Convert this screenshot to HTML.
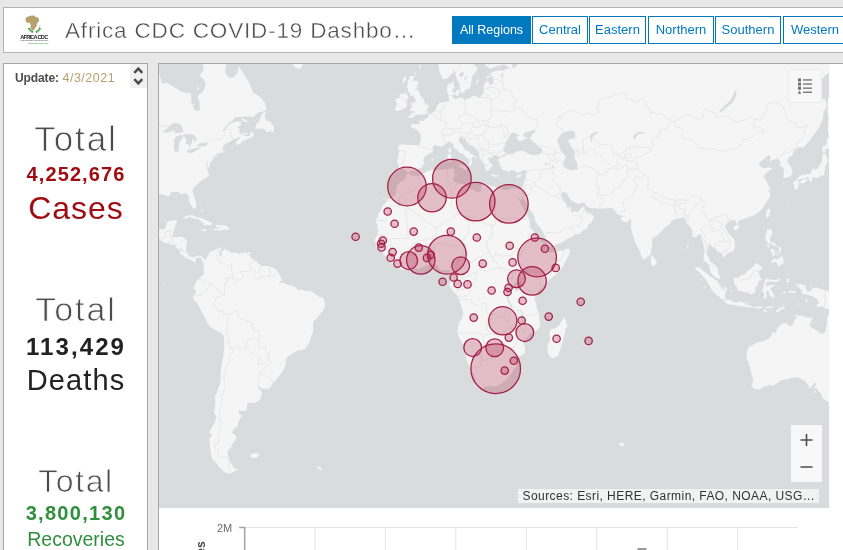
<!DOCTYPE html>
<html><head><meta charset="utf-8"><title>Africa CDC COVID-19 Dashboard</title>
<style>
html,body{margin:0;padding:0;}
body{width:843px;height:550px;overflow:hidden;background:#e8e8e8;font-family:"Liberation Sans",sans-serif;color:#4c4c4c;position:relative;}
.abs{position:absolute;box-sizing:border-box;}
#hdr{left:3px;top:7px;width:846px;height:46px;background:#fff;border:1px solid #b4b4b4;}
#title{left:65px;top:15.5px;font-size:22.5px;line-height:30px;white-space:nowrap;color:#4c4c4c;letter-spacing:0.82px;-webkit-text-stroke:0.4px #fff;}
.tab{top:16px;height:28px;border:1px solid #0079c1;color:#0079c1;background:#fff;font-size:13px;line-height:26px;text-align:center;white-space:nowrap;}
.tab.on{background:#0079c1;color:#fff;}
#left{left:3px;top:63px;width:145px;height:500px;background:#fff;border:1px solid #a6a6a6;}
#right{left:158px;top:63px;width:700px;height:500px;background:#fff;border:1px solid #a6a6a6;}
#map{left:159px;top:64px;width:670px;height:444px;background:#d8dcdd;overflow:hidden;}
.ctr{left:5px;width:142px;text-align:center;white-space:nowrap;}
.lt{-webkit-text-stroke:0.75px #fff;}
</style></head><body>
<div id="hdr" class="abs"></div>
<svg class="abs" style="left:18px;top:14px" width="32" height="32" viewBox="0 0 32 32">
 <path d="M8 3.5 L12 1.8 L16.5 1.6 L17.5 3 L20 3.4 L21.3 6 L20.2 8 L19 9.6 L18.6 12 L17 14.2 L15.8 16.2 L13.8 16.4 L12.6 13.8 L12.8 11 L11.8 8.8 L9 8.8 L7.4 6.6 Z" fill="#b8a16e"/>
 <path d="M21.5 11.5 l0.6 2 l-0.9 1 z" fill="#b8a16e"/>
 <path d="M10.9 14 C11.6 15.8 13 17.2 15.4 18.5 M22 14 C21.4 15.8 20 17.2 17.7 18.5" stroke="#3a9a3c" stroke-width="2" fill="none" stroke-dasharray="1.7 0.45"/>
 <text x="16.2" y="25.2" font-size="5.6" font-weight="bold" text-anchor="middle" fill="#1c1c1c" font-family="Liberation Sans, sans-serif" textLength="28">AFRICA CDC</text>
 <text x="16.2" y="27.3" font-size="1.9" text-anchor="middle" fill="#555" font-family="Liberation Sans, sans-serif" textLength="28">Centres for Disease Control and Prevention</text>
 <text x="20" y="29.6" font-size="1.9" text-anchor="middle" fill="#3a9a3c" font-family="Liberation Sans, sans-serif" textLength="20">Safeguarding Africa's Health</text>
</svg>
<div id="title" class="abs">Africa CDC COVID-19 Dashbo…</div>
<div class="abs tab on" style="left:452px;width:79px;font-size:12.5px;">All Regions</div>
<div class="abs tab" style="left:532px;width:56px;">Central</div>
<div class="abs tab" style="left:589px;width:57px;">Eastern</div>
<div class="abs tab" style="left:648px;width:66px;">Northern</div>
<div class="abs tab" style="left:715px;width:66px;">Southern</div>
<div class="abs tab" style="left:783px;width:64px;">Western</div>

<div id="left" class="abs"></div>
<div class="abs" style="left:130px;top:64px;width:17px;height:24px;background:#f0f0f0;"></div>
<svg class="abs" style="left:130px;top:64px" width="17" height="24" viewBox="0 0 17 24"><path d="M4.3 8.9 L8.3 4.6 L12.3 8.9 M4.3 15.1 L8.3 19.4 L12.3 15.1" fill="none" stroke="#4c4c4c" stroke-width="2.4"/></svg>
<div class="abs" style="left:15px;top:70px;font-size:12.5px;line-height:16px;white-space:nowrap;letter-spacing:0;"><b style="font-size:12px;letter-spacing:-0.1px">Update:</b> <span style="color:#b8a06e;letter-spacing:0.5px">4/3/2021</span></div>

<div class="abs ctr lt" style="top:119px;font-size:35px;line-height:40px;letter-spacing:1.9px;">Total</div>
<div class="abs ctr" style="top:162px;font-size:20px;line-height:24px;font-weight:bold;color:#a00c12;letter-spacing:1.1px;">4,252,676</div>
<div class="abs ctr" style="top:188px;font-size:32px;line-height:40px;color:#a00c12;letter-spacing:1px;">Cases</div>

<div class="abs ctr lt" style="top:289px;font-size:34px;line-height:40px;letter-spacing:1.9px;">Total</div>
<div class="abs ctr" style="top:333px;font-size:24px;line-height:28px;font-weight:bold;color:#222;letter-spacing:2.1px;">113,429</div>
<div class="abs ctr" style="top:362px;font-size:29px;line-height:36px;color:#222;letter-spacing:1.1px;">Deaths</div>

<div class="abs ctr lt" style="top:461px;font-size:32px;line-height:40px;letter-spacing:1.6px;">Total</div>
<div class="abs ctr" style="top:501px;font-size:20px;line-height:24px;font-weight:bold;color:#2f8f3c;letter-spacing:1.3px;">3,800,130</div>
<div class="abs ctr" style="top:527px;font-size:19.5px;line-height:24px;color:#2f8f3c;">Recoveries</div>

<div id="right" class="abs"></div>
<div id="map" class="abs">
<svg width="670" height="444" viewBox="0 0 670 444" style="display:block">
<path d="M-47.9 -64.0L80.1 -64.0L80.1 1.9L82.4 6.4L85.8 11.4L90.6 19.5L92.6 24.6L94.3 28.7L98.3 31.2L101.2 32.7L104.0 36.6L106.0 38.5L106.8 42.7L107.0 46.0L102.9 47.8L98.6 48.7L94.3 52.8L85.8 52.8L76.1 53.2L73.3 57.2L71.0 57.8L66.7 62.3L64.5 65.3L62.5 67.8L65.3 66.6L67.3 63.6L70.2 60.6L73.0 59.1L77.3 57.6L81.5 57.6L82.1 61.1L78.7 62.8L80.7 65.7L80.1 69.0L83.0 70.7L85.8 71.9L90.1 72.3L91.5 69.0L92.9 67.0L94.9 70.3L93.8 72.7L90.9 73.9L84.4 76.8L81.5 79.5L78.1 81.1L76.7 79.9L77.3 77.2L81.5 73.9L80.7 72.7L77.3 74.4L74.4 75.6L70.2 78.0L65.9 80.3L63.9 83.1L63.6 85.0L64.2 87.3L65.9 86.9L65.9 88.1L63.0 88.8L58.8 89.6L55.4 90.7L60.2 90.7L55.9 92.2L54.5 91.9L54.5 93.3L53.9 95.9L52.0 98.5L50.2 96.7L51.4 100.0L50.2 102.5L48.8 104.7L48.3 100.7L48.3 97.1L47.1 97.4L47.4 101.8L47.7 104.7L48.8 106.1L50.2 111.4L47.4 113.4L43.7 115.9L40.3 118.2L37.4 121.0L34.6 123.3L33.5 127.6L35.7 134.2L37.4 139.6L36.9 144.1L34.9 145.0L32.6 142.2L29.8 136.7L29.8 132.5L26.9 129.3L25.2 129.3L22.4 130.3L19.0 128.0L14.7 128.0L11.8 128.6L10.7 131.9L7.6 131.9L4.7 130.6L0.5 130.3L-4.4 131.2L-8.1 134.2L-11.8 137.4L-11.5 142.2L-12.9 148.4L-13.2 153.7L-11.5 158.6L-8.9 162.8L-5.2 164.9L-3.2 166.1L1.9 165.2L4.7 165.2L7.0 162.8L7.9 158.3L9.0 157.4L14.7 156.2L17.5 156.2L18.1 158.3L16.1 161.6L15.5 165.8L14.1 168.2L13.8 171.2L12.4 173.0L14.7 173.6L17.5 173.3L20.4 172.7L23.2 173.0L26.6 174.8L28.3 175.6L27.8 178.6L27.2 183.0L26.9 186.7L28.1 189.3L30.9 192.2L33.2 193.4L36.0 192.8L38.9 191.4L41.7 191.9L44.8 194.2L46.5 196.0L48.8 192.2L50.2 188.8L52.2 187.3L54.5 186.4L58.8 184.7L61.6 183.3L62.2 185.3L60.5 187.3L61.3 187.9L62.2 187.6L65.3 185.9L65.9 184.1L67.0 185.9L70.7 187.3L71.0 188.8L77.3 188.5L80.1 189.9L83.0 188.8L87.2 188.2L88.6 190.2L91.5 191.7L92.1 194.2L94.9 195.4L98.6 198.8L102.3 201.7L107.1 202.0L111.4 202.3L115.7 204.6L118.5 206.6L119.9 210.3L122.2 213.7L122.8 216.5L119.9 218.8L121.4 219.7L124.2 219.4L127.0 219.7L128.5 220.8L132.7 221.6L137.6 223.9L139.0 226.2L141.8 225.6L147.0 227.1L151.2 226.8L155.5 229.3L159.2 232.5L164.0 233.6L165.4 237.3L166.0 240.2L165.4 243.9L162.6 248.3L159.8 251.2L156.9 255.2L154.1 257.6L154.1 262.0L154.1 267.9L152.1 272.4L151.2 276.9L148.4 281.4L146.1 285.1L142.7 286.1L138.4 286.7L134.2 289.2L129.0 292.3L126.8 295.4L126.8 300.2L125.6 304.1L122.8 308.3L119.9 312.6L116.5 316.0L113.1 320.7L111.4 323.5L108.6 324.8L104.3 324.8L100.6 323.5L98.9 321.7L98.9 323.8L102.3 326.9L102.9 329.7L101.4 335.1L98.6 337.6L94.3 339.1L88.6 339.1L87.8 343.1L87.2 346.9L83.0 346.9L80.1 346.1L80.1 350.7L83.8 351.4L81.5 353.8L79.5 358.5L78.4 362.4L74.4 365.7L73.0 368.6L75.8 370.6L77.8 374.0L74.4 378.3L72.1 383.5L68.7 387.1L68.7 391.6L70.4 393.9L70.2 395.8L73.0 401.0L75.8 404.4L79.5 405.4L75.8 407.4L70.2 409.4L65.9 408.4L61.6 404.4L57.4 399.6L53.1 394.9L51.7 388.0L50.8 381.3L50.2 374.8L53.1 370.6L50.2 368.6L53.1 362.4L55.9 358.5L57.4 352.6L55.1 348.8L55.9 343.1L56.5 337.6L55.9 332.9L57.9 328.7L59.6 323.5L61.6 318.3L61.6 311.6L61.9 305.1L63.0 298.6L64.5 292.3L64.8 286.1L65.3 279.9L65.0 273.9L64.8 271.8L61.6 268.8L57.4 266.4L51.7 263.4L48.3 259.0L46.5 254.6L43.7 249.7L40.9 243.9L38.0 238.8L34.6 235.9L34.0 232.5L36.0 229.3L37.4 227.9L36.9 225.9L34.6 225.1L35.2 221.6L36.9 218.8L37.4 216.5L40.3 215.1L41.7 212.5L44.6 210.8L45.1 207.4L44.6 203.1L44.8 199.7L43.4 198.0L42.6 195.4L41.7 193.7L38.9 193.4L36.6 195.1L36.9 197.7L34.6 198.0L32.6 196.0L29.5 195.1L27.5 194.8L24.6 191.7L23.2 191.1L21.2 190.2L20.9 187.3L19.0 185.0L16.1 181.8L16.1 180.6L13.3 180.9L9.0 179.5L4.7 178.6L2.5 176.8L-1.0 173.6L-3.8 172.1L-8.1 173.6L-12.3 173.0L-16.6 170.9L-22.3 168.2L-33.7 160.7L-47.9 154.6ZM107.1 46.9L103.4 49.6L101.4 54.1L100.0 57.6L97.2 60.6L96.3 64.5L100.0 64.5L105.7 64.9L107.1 67.4L110.8 67.8L111.4 64.9L112.5 68.6L114.0 68.6L115.1 64.9L114.2 60.6L112.8 61.5L112.0 57.2L108.6 57.2L106.3 54.5L105.7 51.9ZM81.5 54.5L85.8 55.0L89.5 58.0L87.2 58.0L83.5 56.7ZM82.1 67.8L85.8 69.5L88.6 69.0L87.2 71.1L84.4 70.7ZM128.5 -33.6L132.7 -0.4L136.4 3.6L139.8 5.0L142.1 4.2L143.3 0.7L145.5 -33.6ZM23.5 154.9L26.1 152.5L29.5 151.2L33.2 151.2L36.0 151.9L38.9 153.4L42.3 153.7L45.4 155.5L48.8 157.1L51.7 158.6L53.9 160.1L52.2 161.0L47.4 161.0L44.0 161.2L45.4 159.2L42.6 158.3L41.1 155.9L36.0 154.6L32.3 154.0L31.2 152.8L28.1 154.0L26.1 154.6ZM53.1 165.5L55.1 166.4L58.8 166.1L61.1 167.3L63.0 165.8L65.9 165.5L69.6 166.1L70.7 164.9L68.7 163.1L66.2 161.6L63.0 161.0L61.1 161.3L57.9 161.0L56.2 161.3L57.9 162.8L59.1 164.9L55.9 164.9ZM42.0 165.8L43.7 165.2L46.3 165.5L48.3 166.7L46.3 167.3L43.7 167.0ZM88.9 188.2L91.8 187.9L91.5 189.9L88.9 189.9ZM42.3 145.3L43.7 145.6L44.0 147.8L42.6 147.5ZM40.6 139.9L43.7 139.9L43.4 140.6L40.6 140.6ZM90.9 391.6L94.3 389.3L97.7 389.3L100.6 390.7L98.6 393.0L95.8 393.9L92.1 393.5ZM120.5 219.4L124.8 218.5L127.3 220.2L125.6 223.1L121.9 223.4ZM156.9 402.0L160.3 402.5L163.2 405.4L162.0 406.4L158.6 404.0ZM4.7 220.5L5.9 219.7L6.4 221.4L5.0 221.6ZM277.8 -64.0L278.9 -1.6L279.8 4.2L280.6 8.1L281.2 10.3L283.5 14.7L286.3 15.2L289.2 13.6L292.0 10.3L294.3 8.7L295.2 4.7L296.0 9.2L297.1 12.5L298.8 16.8L300.6 21.0L301.1 24.6L301.7 27.7L302.0 28.7L305.4 28.7L306.0 26.2L307.1 25.2L310.5 24.6L311.6 22.1L312.5 16.8L313.4 12.0L316.2 8.1L317.9 6.4L318.5 3.6L314.8 0.7L313.9 -1.6L313.9 -64.0L327.6 -64.0L326.2 -1.6L325.6 0.7L329.0 3.0L330.4 4.7L336.1 3.0L341.8 1.3L346.1 0.7L350.9 4.7L347.5 4.7L344.6 6.4L339.0 6.4L335.3 7.6L331.8 8.7L331.8 12.0L334.7 13.6L334.1 18.9L333.3 20.5L330.4 20.5L329.3 16.8L326.4 17.9L324.7 21.6L324.7 27.2L323.3 30.7L321.9 32.2L320.5 33.6L318.2 33.6L317.6 31.7L313.4 32.2L310.5 34.1L305.7 36.1L303.4 33.6L300.6 33.6L296.3 35.6L293.4 33.2L293.4 30.7L292.9 28.2L294.3 24.6L296.0 23.1L294.3 20.5L295.2 16.8L292.0 19.5L288.3 20.5L288.0 25.7L288.3 28.2L289.5 30.7L289.7 34.1L290.3 35.6L290.6 36.1L289.2 37.5L287.8 37.5L284.9 38.0L284.3 38.5L280.6 38.9L278.7 40.8L277.2 44.6L275.0 47.8L272.1 49.2L269.6 50.1L269.3 53.2L265.6 55.4L265.0 57.2L261.6 56.7L260.7 55.4L260.4 59.8L257.9 60.2L251.6 60.6L252.2 63.2L257.0 65.3L259.0 66.6L261.6 70.3L261.6 76.8L260.2 81.5L255.0 81.1L248.5 80.7L242.2 80.3L238.8 82.7L240.0 86.5L240.0 90.7L238.3 96.7L238.0 99.2L240.0 100.3L239.7 105.4L244.0 104.7L246.8 106.4L249.1 108.9L252.5 106.4L258.7 106.4L260.2 103.9L263.0 103.2L264.4 100.0L265.6 98.9L264.1 96.3L267.0 91.5L271.3 89.2L274.1 87.3L273.8 85.4L273.5 83.1L276.4 81.1L280.1 81.9L283.5 82.7L286.3 79.9L289.7 77.6L294.0 79.5L294.9 83.5L298.3 86.2L300.6 88.8L304.3 90.0L305.7 91.5L307.7 93.7L309.7 94.8L310.8 98.2L309.7 101.8L311.1 102.1L312.2 100.3L313.6 98.2L312.2 95.6L313.1 93.0L315.9 93.3L317.3 95.2L317.6 93.3L313.4 90.7L310.5 88.8L310.5 87.3L307.7 86.9L304.8 84.2L303.7 81.1L300.8 79.1L300.0 76.0L300.0 73.5L304.0 72.3L303.7 75.2L306.0 73.9L307.7 77.2L310.5 81.1L314.8 83.1L317.6 85.4L320.2 87.7L320.2 92.6L321.9 95.6L324.7 98.9L325.3 100.7L329.0 100.7L330.4 101.8L326.4 101.4L325.6 102.5L326.7 106.1L328.7 107.1L329.9 106.1L331.0 107.1L330.4 103.9L331.8 103.6L333.3 102.9L333.3 101.1L330.4 98.2L330.1 96.7L329.3 94.5L330.4 93.0L331.8 93.7L333.3 93.7L334.4 91.1L339.0 91.5L339.5 93.3L341.2 92.6L344.6 90.7L347.5 90.3L347.5 91.5L343.2 93.0L339.5 94.5L339.5 96.7L341.2 98.9L340.1 100.7L342.4 102.9L342.7 105.4L345.2 106.4L347.8 106.8L349.5 108.6L352.0 106.1L356.0 107.1L358.3 108.9L361.7 107.9L363.7 106.1L366.3 106.8L368.0 106.4L367.1 109.3L366.8 112.4L366.0 116.2L364.6 119.9L363.7 122.6L362.6 125.0L360.3 125.6L356.9 125.0L357.4 129.3L358.9 132.5L360.6 135.1L362.3 136.4L363.1 134.2L364.3 130.9L364.0 134.2L365.1 135.8L368.8 142.2L370.8 145.9L374.5 150.0L375.9 154.6L376.5 157.7L378.8 160.7L381.6 164.3L384.5 169.1L386.7 173.3L387.3 177.1L388.2 180.6L388.7 182.4L393.0 182.1L397.3 180.3L403.0 178.6L407.2 175.6L412.9 172.7L415.8 170.6L420.9 169.7L422.9 167.3L425.7 165.8L428.6 163.7L429.4 160.1L432.0 159.2L435.1 153.1L432.3 149.7L427.7 148.4L425.7 145.9L425.4 141.2L424.3 142.8L421.4 144.7L419.5 147.5L414.3 147.8L411.8 147.5L411.8 145.3L411.5 141.9L409.5 143.7L409.5 145.9L407.8 142.8L407.5 139.9L404.4 137.1L403.0 134.2L401.5 130.9L403.0 129.3L404.4 128.0L407.2 128.6L409.5 132.5L411.5 136.1L414.6 137.7L418.6 139.9L422.9 139.0L425.7 138.7L427.7 142.2L429.4 143.4L432.8 144.1L439.9 144.7L445.6 144.4L451.3 144.1L454.4 144.7L455.6 145.9L457.0 148.8L459.8 150.9L465.0 151.9L461.3 154.0L464.1 157.7L467.0 158.6L469.8 157.1L471.2 154.0L472.1 157.1L472.1 163.7L473.5 169.7L474.9 174.2L476.9 180.0L479.8 185.3L481.7 190.2L483.5 194.0L485.4 195.7L487.4 193.4L489.7 192.2L492.0 189.3L492.0 185.9L493.4 181.2L492.8 175.0L494.8 173.3L499.1 170.9L502.5 167.3L506.8 163.1L511.0 160.1L512.5 156.5L515.3 155.5L518.2 155.2L522.4 153.7L525.3 153.1L526.7 156.8L527.5 159.2L531.0 162.2L533.5 166.7L533.2 172.7L536.1 173.3L540.3 170.3L542.6 171.2L542.9 175.6L544.3 180.0L545.5 184.4L545.2 188.8L544.6 193.1L544.6 196.0L548.0 198.8L550.3 201.7L550.6 204.6L551.7 207.4L553.1 210.5L556.0 212.8L559.4 215.1L561.4 214.8L560.8 211.7L559.1 208.8L559.1 206.0L557.4 202.6L555.7 201.1L553.7 199.1L550.9 198.0L550.0 194.5L548.9 192.2L547.2 188.8L548.9 185.0L549.4 180.6L551.7 180.0L552.3 182.4L555.7 183.8L558.0 187.3L561.7 188.8L563.7 190.2L563.1 194.0L565.1 192.5L568.8 189.3L570.8 188.8L575.0 185.9L576.2 181.5L575.0 175.6L572.2 172.1L569.4 169.1L567.4 165.8L565.7 162.2L568.5 158.6L572.2 156.2L576.5 156.2L577.3 159.2L579.3 159.8L579.3 156.8L583.6 155.2L587.8 154.0L590.1 153.1L595.0 151.5L599.2 148.4L603.5 144.4L605.8 140.6L609.2 135.8L611.5 130.9L610.6 128.3L608.6 127.6L611.7 126.3L610.6 123.3L608.6 119.9L607.2 115.9L604.3 112.4L607.2 108.9L610.6 106.1L613.4 104.7L610.6 103.2L606.3 103.9L603.5 104.3L600.6 101.1L599.8 98.2L603.5 96.3L609.2 91.5L612.0 92.6L610.0 98.2L613.4 95.9L618.6 94.5L620.6 96.3L621.4 100.0L620.0 101.8L623.4 102.9L625.1 105.4L624.5 108.9L624.5 112.4L624.3 114.1L627.7 113.8L631.9 112.1L633.4 108.9L632.8 104.7L630.5 100.7L627.7 96.3L630.5 93.3L633.9 90.7L634.8 86.9L637.1 85.4L640.5 82.7L643.9 83.8L650.4 77.2L656.1 69.0L660.4 62.8L664.1 54.1L664.6 47.3L667.2 43.7L667.5 38.9L666.6 36.6L663.8 34.6L661.8 34.1L657.5 35.6L656.1 33.2L650.4 32.2L654.7 25.7L660.4 17.9L666.1 11.4L671.8 7.6L691.7 7.0L691.7 -64.0ZM358.9 129.3L358.3 125.0L353.2 124.3L350.3 125.0L347.5 126.3L343.2 125.3L337.5 124.0L336.1 123.0L331.8 122.0L327.6 119.9L323.3 121.0L321.9 124.3L321.9 127.6L319.0 128.3L314.8 126.3L309.1 124.3L308.2 121.6L303.4 119.9L299.1 119.3L296.9 118.6L294.0 116.5L293.7 114.8L296.3 111.7L295.2 109.3L294.9 107.1L296.3 105.4L294.0 104.7L290.6 104.7L286.3 105.4L282.1 105.7L276.4 105.7L273.5 106.1L268.7 107.1L265.0 109.3L261.6 111.4L258.7 112.1L256.5 111.4L252.2 111.7L249.9 109.3L248.2 109.6L247.1 113.1L245.7 115.9L243.4 117.2L240.8 118.2L238.5 121.0L237.1 124.3L237.4 127.6L236.0 131.6L233.1 133.2L228.3 136.1L226.6 139.0L223.8 141.5L222.3 145.9L219.5 149.4L218.6 153.1L216.6 156.5L216.5 158.3L218.6 160.7L218.1 163.7L219.5 166.7L218.1 171.2L215.2 176.5L217.2 179.2L217.2 183.0L219.5 185.0L222.3 187.3L223.8 189.6L226.0 191.7L227.5 194.5L229.4 197.4L232.3 199.1L234.3 200.8L238.0 203.4L243.1 206.3L247.9 205.1L253.6 204.0L257.9 204.6L259.3 205.4L264.4 203.1L268.4 201.4L272.1 200.8L274.7 200.6L277.8 201.1L279.8 203.1L280.6 205.1L282.1 206.6L284.9 206.3L288.6 206.0L290.3 206.0L292.0 207.7L292.9 210.3L292.3 213.1L291.7 216.0L291.5 217.9L290.0 220.8L292.0 224.5L294.9 227.9L298.6 232.2L300.0 235.9L302.0 240.2L302.8 243.9L304.3 248.8L303.4 254.1L300.6 257.6L299.1 262.0L298.6 266.4L298.6 268.8L299.7 272.4L302.8 278.4L306.0 284.5L306.2 289.2L307.7 296.4L309.9 301.2L311.9 303.8L313.9 308.3L316.2 314.0L317.1 317.3L316.2 318.3L317.3 321.7L317.6 323.1L319.9 323.8L321.9 324.5L326.2 323.1L330.4 322.1L335.5 322.4L338.1 321.7L341.8 320.0L344.6 318.0L348.1 314.0L351.2 311.0L353.2 308.0L355.5 304.7L357.7 301.8L358.6 298.0L357.7 295.1L358.9 293.2L363.1 291.3L366.0 289.2L366.0 284.5L365.1 281.4L364.0 277.5L364.6 276.0L368.0 273.3L370.8 269.7L374.5 268.2L378.2 265.8L380.5 263.4L381.1 260.5L380.5 256.1L380.2 251.7L379.9 248.8L378.2 245.9L377.4 241.6L376.8 238.2L375.4 235.9L375.9 233.0L377.4 231.0L379.3 226.8L381.6 224.5L383.3 223.4L385.9 220.2L390.2 216.0L393.9 213.1L397.3 210.3L401.5 206.0L404.4 201.7L406.7 196.5L409.5 191.7L410.4 188.8L410.9 185.0L408.6 184.4L404.4 186.4L400.1 186.7L395.8 187.9L391.6 189.1L388.7 187.3L387.9 185.6L388.2 183.0L385.9 180.6L383.0 178.0L380.2 175.6L377.9 174.8L376.5 171.2L374.8 166.7L371.7 164.3L370.8 161.9L370.8 157.7L370.0 154.6L366.5 148.8L364.6 145.3L362.6 141.2L361.1 138.0L359.4 134.8L357.7 130.9ZM248.8 53.6L250.8 54.1L255.0 52.8L256.5 51.0L259.9 51.0L262.2 50.5L265.9 50.5L269.0 48.7L269.0 47.8L266.4 47.3L267.8 46.0L269.8 42.3L268.7 40.8L265.9 40.8L265.9 39.4L265.3 37.5L264.4 35.1L263.3 33.2L261.3 31.7L260.4 28.2L258.7 25.7L255.9 25.7L257.6 24.1L258.7 20.5L259.9 17.9L257.9 16.8L255.0 16.8L253.1 17.9L253.9 15.2L256.2 12.0L250.8 12.0L250.2 15.2L248.5 17.9L248.8 21.6L247.4 22.6L249.1 24.6L248.8 28.7L250.8 27.7L251.3 30.7L250.5 31.7L252.8 31.7L255.0 31.2L255.0 33.6L256.5 35.6L256.5 38.5L252.2 38.9L251.9 41.3L253.3 42.7L251.6 45.0L250.2 46.0L253.1 46.9L255.9 47.8L256.5 48.7L253.1 48.7L251.9 50.5ZM246.8 44.1L243.7 45.0L240.8 46.4L237.1 47.3L235.7 45.0L237.1 42.7L238.0 39.4L236.6 38.0L236.6 34.6L240.8 34.1L240.3 31.7L241.7 29.7L244.2 29.2L247.4 29.7L249.1 32.2L249.4 34.1L247.6 36.1L247.6 38.9L247.9 41.8ZM244.5 13.1L247.4 12.5L246.8 15.2L244.5 19.5L243.7 17.9ZM255.3 9.2L257.6 8.7L257.0 10.9L255.6 10.3ZM260.4 0.7L262.2 0.7L261.9 4.2L260.7 4.7ZM296.9 27.2L299.7 25.2L300.8 27.2L300.0 29.7L299.1 32.2L296.9 31.2L296.0 29.2ZM292.9 28.2L295.4 28.2L295.7 30.2L294.0 30.7L293.2 29.7ZM316.8 19.5L318.5 15.8L319.6 15.8L318.5 18.9L317.1 21.0ZM311.6 24.6L313.6 18.9L313.1 21.6ZM327.3 13.6L329.0 12.0L331.3 12.5L329.9 14.1L328.1 15.2ZM328.1 10.3L330.1 9.5L330.1 10.9ZM300.3 101.8L302.8 101.1L307.7 101.4L309.4 100.7L308.2 104.3L308.0 106.4L305.7 105.7L302.0 103.6L300.6 103.2ZM288.3 91.1L291.2 89.6L292.9 92.6L292.3 97.4L290.6 98.2L288.9 98.2L288.9 94.5ZM289.5 85.4L291.7 83.1L292.0 86.9L291.2 89.2L289.7 88.1ZM331.8 111.4L332.4 110.3L336.1 111.0L339.8 111.4L339.5 112.4L335.5 112.8L332.1 111.7ZM356.9 112.4L358.6 111.0L360.9 111.0L363.4 110.0L361.7 112.4L358.9 113.8ZM344.1 108.2L345.2 107.5L344.9 108.9ZM331.0 98.2L335.0 101.4L333.8 100.0L331.8 99.2ZM338.7 97.4L340.7 97.1L340.4 98.2L338.7 97.8ZM271.8 95.9L273.8 94.7L274.7 95.9L273.5 97.1ZM275.8 94.5L277.2 94.8L276.7 95.0ZM268.4 98.2L269.6 97.8L269.3 98.7ZM491.7 195.4L492.8 190.8L495.1 193.4L497.7 197.4L497.4 200.3L494.3 202.0L492.6 201.1L492.0 198.8ZM405.2 253.2L406.9 256.7L408.1 262.0L408.6 263.1L406.7 263.7L406.1 267.6L405.5 270.3L403.8 276.9L402.4 281.4L400.7 287.0L399.0 292.0L394.7 293.9L393.4 294.2L390.7 292.3L389.3 289.8L388.2 284.5L388.7 280.8L391.0 276.9L391.0 273.3L390.2 269.4L391.6 265.5L393.9 264.9L396.7 264.0L399.3 262.0L401.2 260.5L401.5 257.9L403.8 256.7L404.1 254.3ZM387.9 251.4L388.7 252.0L388.4 252.9ZM393.1 255.2L393.9 255.5L393.4 256.1ZM428.1 277.2L429.3 277.0L429.3 278.2L428.3 278.4ZM422.2 279.8L423.4 279.6L423.7 280.8L422.4 281.0ZM460.4 379.1L463.0 378.3L465.5 380.0L464.7 382.2L461.8 382.0L460.7 380.9ZM376.5 235.3L377.4 235.9L377.4 237.0L376.8 236.8ZM216.9 134.5L218.9 134.0L218.1 135.8ZM220.1 135.5L221.2 135.5L220.9 136.6ZM224.0 135.5L225.6 133.5L225.7 135.1ZM225.7 132.5L226.7 131.9L226.6 132.9ZM197.4 174.8L198.3 175.0L198.0 175.9ZM193.0 169.3L193.9 169.3L193.6 169.9ZM199.7 172.1L200.4 172.2L200.1 172.8ZM289.2 208.3L290.3 208.6L289.7 209.6ZM283.5 217.8L284.2 217.9L283.8 218.7ZM609.2 145.0L611.7 145.3L610.6 150.0L608.9 154.6L606.6 151.5L607.2 148.4ZM574.2 162.8L577.9 160.4L580.7 161.6L579.0 165.2L576.5 166.1L574.2 164.9ZM634.2 118.2L637.3 116.2L639.6 117.2L640.2 119.9L638.8 124.3L636.8 126.0L635.3 125.0L635.6 121.0L633.9 119.9ZM641.0 117.9L643.3 115.9L647.6 114.8L648.1 116.5L646.7 118.2L643.9 119.3L642.7 119.9ZM637.3 115.9L639.0 113.8L642.5 111.0L647.0 110.3L651.3 110.3L652.4 107.9L654.1 104.3L655.5 103.6L654.7 106.1L658.4 104.7L661.2 101.1L663.2 95.9L663.2 92.2L664.1 90.0L666.9 89.2L667.5 92.6L668.9 95.9L667.5 100.7L666.1 101.8L666.1 105.4L664.9 108.2L665.8 110.0L664.1 112.1L662.7 112.4L662.7 110.3L661.2 111.4L659.8 113.4L658.1 113.8L655.3 113.8L654.4 112.4L653.6 113.8L652.7 117.6L651.0 117.6L649.3 114.8L650.1 113.4L647.6 113.4L644.7 114.5L641.3 115.2L638.2 116.2ZM663.2 88.8L664.1 85.8L662.7 84.6L664.4 81.9L666.9 81.9L668.1 75.2L668.9 73.1L671.8 77.2L675.7 79.5L678.3 78.0L678.9 81.9L675.2 83.5L672.6 86.9L668.9 84.6L666.1 85.4L666.6 87.7L664.6 88.5ZM668.9 34.1L671.8 34.1L672.6 42.7L672.3 49.6L674.6 56.3L671.8 58.5L671.2 64.9L673.2 69.9L670.3 68.2L668.9 71.1L668.9 62.8L669.5 54.1L668.3 47.3L668.6 40.4ZM624.0 118.2L626.0 117.4L626.0 118.2L624.3 118.6ZM608.0 165.2L612.6 165.2L613.2 168.8L612.6 172.1L610.9 173.3L611.2 177.7L613.4 178.6L615.7 179.2L618.0 181.5L617.7 182.7L615.7 181.5L613.7 180.9L611.5 179.5L608.9 179.2L608.0 177.4L606.9 176.2L606.0 172.1L607.5 170.9L607.5 168.2ZM607.5 180.0L609.7 180.3L610.6 182.4L609.7 183.8L608.6 182.4ZM598.4 194.8L602.1 191.7L604.9 187.9L605.5 186.2L604.1 189.1L601.5 192.5L598.7 195.4ZM612.0 184.7L615.2 185.6L614.6 187.6L612.0 188.8L611.7 186.4ZM614.6 187.6L616.3 187.6L615.4 191.7L614.9 192.8L613.4 191.4L613.7 189.1ZM616.0 190.2L617.7 186.7L617.9 188.5L616.6 190.5ZM618.6 183.0L621.4 183.0L622.5 186.7L620.6 187.3L620.3 185.0ZM618.8 186.2L620.6 186.4L621.1 189.6L620.0 189.9ZM617.1 190.2L619.1 189.9L619.1 191.4L617.7 191.4ZM612.0 197.4L612.6 199.1L615.7 197.7L617.7 198.8L618.3 201.1L621.4 202.3L622.3 199.4L624.0 200.8L624.8 198.0L624.3 194.5L622.0 191.1L621.7 193.1L620.0 194.2L617.1 195.7L616.0 194.2L614.0 195.4L612.6 196.3ZM575.3 214.2L577.0 213.1L579.3 214.0L581.6 211.7L586.1 210.0L589.0 206.0L592.1 204.6L593.8 202.8L596.9 199.1L599.5 200.3L601.5 202.3L604.1 204.0L601.2 206.3L599.5 207.1L600.1 209.7L600.6 212.5L603.2 216.0L600.1 216.5L599.2 218.8L599.2 221.1L596.4 223.6L596.4 226.8L595.5 229.3L594.4 229.0L591.3 230.5L588.7 228.5L585.9 228.2L582.7 227.3L578.7 226.8L577.9 223.1L575.9 220.5L575.0 217.9L574.8 215.4ZM536.1 202.8L540.9 204.0L543.8 206.6L545.7 208.3L548.9 210.3L550.9 212.5L553.7 213.4L556.6 216.0L559.1 217.4L560.3 220.2L562.2 222.2L562.5 224.5L565.9 226.5L566.5 228.2L565.9 231.6L566.2 235.3L564.2 235.3L562.2 235.0L560.8 233.0L557.4 231.0L555.1 228.5L552.3 225.3L550.6 221.6L548.6 218.8L546.6 215.4L545.2 213.1L542.9 211.4L540.9 208.8L538.1 206.6L536.4 204.6ZM564.2 237.9L566.5 235.6L569.4 235.8L573.1 236.8L575.0 238.2L579.0 238.5L580.4 237.0L582.2 237.9L585.3 238.5L586.4 240.5L590.7 240.8L591.0 243.6L587.3 242.8L583.6 242.5L579.3 241.9L575.0 240.8L572.2 240.8L567.9 239.9L567.4 238.6ZM585.6 238.8L589.3 238.5L589.3 239.3L585.9 239.3ZM590.7 242.2L592.7 241.9L594.1 242.8L592.7 243.9ZM594.7 242.8L596.7 242.5L596.4 244.2L595.0 244.1ZM597.2 243.1L599.8 242.2L601.5 242.8L603.5 242.5L603.5 243.9L600.1 244.5L597.2 244.5ZM606.0 243.1L609.2 242.8L613.4 242.2L614.9 242.5L614.3 243.6L610.6 244.2L606.3 243.9ZM603.5 245.9L606.3 245.5L608.6 247.4L606.9 248.1L604.1 247.0ZM616.3 248.3L618.3 245.7L621.1 243.6L624.8 242.8L627.1 242.8L624.8 244.5L621.4 246.2L619.1 247.8ZM564.2 223.6L566.8 223.1L568.5 226.2L567.1 227.3L565.4 225.3ZM571.1 226.2L572.8 226.5L572.5 227.9L571.1 227.6ZM541.2 214.8L542.3 214.8L543.5 217.1L542.6 217.2ZM545.5 221.6L546.6 221.9L547.5 223.6L546.6 223.9ZM537.2 210.8L538.1 210.8L539.5 212.0L538.6 212.1ZM605.8 216.2L607.2 215.1L609.2 215.1L612.6 216.0L615.4 216.1L618.6 215.4L621.1 214.0L620.6 216.0L618.6 217.7L615.7 217.9L612.0 217.5L609.2 217.5L607.2 218.5L606.6 220.8L608.3 222.8L610.6 221.2L613.7 221.1L616.0 220.9L615.7 221.8L612.6 223.4L611.2 224.2L613.2 227.9L614.6 230.5L615.2 232.5L614.0 232.2L612.6 232.8L610.9 232.5L610.6 230.5L609.2 226.5L607.2 227.1L607.5 229.3L607.5 234.5L605.5 234.8L604.6 234.2L605.2 231.0L604.9 228.8L602.9 226.8L604.1 224.5L604.6 221.6L605.8 218.8ZM614.0 231.9L615.2 231.3L615.4 233.6L614.3 234.8L613.7 233.9ZM627.7 216.0L629.1 212.8L628.8 215.7L631.1 214.5L629.7 216.5L631.4 217.9L629.1 217.7L628.8 219.7L630.2 221.1L628.2 219.7L628.0 217.7ZM629.1 227.3L631.9 226.8L636.2 227.3L637.1 229.6L633.4 228.5L630.5 228.5L629.1 228.5ZM623.4 227.9L625.7 227.5L626.8 228.5L625.7 229.8L623.7 229.0ZM618.8 223.6L621.4 223.9L623.4 224.1L621.4 224.3L618.8 224.3ZM627.4 223.1L629.4 223.1L628.8 223.8ZM646.7 235.3L648.4 234.8L648.1 238.2L646.7 238.5ZM638.2 239.9L639.6 239.3L639.3 241.6L637.9 241.6ZM643.0 233.9L643.9 234.0L643.3 235.6ZM622.8 240.8L625.7 240.5L625.4 241.5L623.1 241.5ZM618.6 242.2L620.8 242.1L620.8 242.8L618.8 242.9ZM637.3 221.4L640.5 219.9L643.9 220.8L646.4 221.1L646.7 224.5L647.9 226.8L649.0 228.2L651.6 227.1L653.0 225.1L655.3 223.9L657.5 223.4L660.4 224.5L664.1 225.6L666.6 226.2L671.8 228.5L680.3 233.0L680.3 244.5L672.6 243.4L670.3 245.1L666.4 245.1L663.8 242.5L660.1 242.8L657.0 242.8L658.7 239.9L659.8 238.8L659.2 236.5L657.5 234.5L653.3 232.2L649.6 231.3L646.4 229.9L643.9 230.2L642.7 228.5L643.0 225.9L645.6 225.1L644.2 225.6L641.3 225.3L640.2 223.4L638.2 222.8ZM650.4 220.8L652.1 221.4L653.0 222.2L651.3 221.9ZM650.7 223.5L654.1 223.8L652.7 224.2ZM635.6 219.1L638.2 219.1L638.2 219.9L635.9 219.8ZM633.9 223.9L635.9 223.9L635.6 224.6L634.2 224.5ZM670.3 249.4L667.8 254.6L668.1 259.0L667.2 263.4L666.1 267.9L663.2 270.0L660.9 268.8L657.5 266.4L654.1 264.3L650.4 261.7L651.8 258.1L654.1 254.1L651.8 253.8L649.0 253.8L644.7 252.6L642.2 251.4L639.9 251.2L637.6 253.8L635.3 255.8L633.9 259.9L633.4 261.7L629.9 261.7L627.7 259.6L624.8 259.0L622.0 260.5L619.1 263.4L617.7 266.1L616.3 268.8L612.9 268.5L612.6 271.5L610.0 274.5L604.9 276.9L600.6 278.1L597.2 278.7L593.5 281.4L589.8 282.7L588.4 286.1L587.8 290.7L587.3 294.5L589.6 298.6L591.0 304.1L592.1 308.3L593.5 313.3L594.1 317.0L593.0 320.4L592.4 322.8L596.4 325.2L600.6 325.5L604.9 323.1L609.2 321.2L614.9 321.4L617.7 319.4L623.4 316.0L629.1 315.0L633.4 313.6L638.2 313.3L641.9 315.0L646.2 317.3L649.0 321.1L650.7 324.8L653.3 321.7L656.1 318.3L657.0 320.0L654.7 325.2L657.5 323.5L659.0 326.9L661.8 328.7L663.2 334.0L667.5 336.9L671.8 338.4L691.7 335.8L691.7 249.4ZM635.3 251.4L638.5 250.9L639.0 252.0L636.5 252.6ZM653.0 258.4L654.4 258.4L654.1 259.9L653.0 259.6ZM653.6 327.6L656.4 327.3L657.5 328.3L654.1 328.7ZM528.7 180.0L529.5 180.3L529.2 184.4L528.4 185.6L528.1 183.0ZM531.5 198.3L532.2 198.8L531.8 199.4ZM560.5 189.1L561.1 189.3L560.8 190.2ZM628.2 141.5L629.9 139.6L629.1 141.2ZM632.5 115.2L633.4 113.4L632.9 115.2ZM658.1 101.8L659.1 100.7L659.0 102.3Z" fill="#f5f5f5" fill-rule="nonzero"/>
<path d="M-5.8 58.5L-5.8 56.7L-4.1 59.8L0.5 60.2L4.7 62.3L9.0 62.3L10.7 62.8M47.7 78.8L51.7 75.2L61.6 75.2L61.9 74.4L63.6 73.5L65.0 71.5L65.9 68.2L68.2 65.1L70.7 65.5L72.1 66.6L72.1 72.3L73.3 73.9L74.4 75.6M24.6 69.0L27.5 70.7L30.3 73.9L30.6 83.1L30.3 84.6L28.6 86.2L28.9 87.3M40.3 83.7L40.1 82.1M2.7 177.1L2.7 174.8L4.2 172.4L7.9 172.4L7.9 171.5L5.0 169.1L6.2 169.0L6.2 167.3L11.3 167.3L11.3 173.0L12.1 173.0M11.3 167.3L11.6 166.7L13.8 165.2M14.1 173.6L11.3 175.9L10.7 177.4L8.7 179.3M10.8 177.4L13.3 178.7L15.3 180.3M16.7 181.5L18.4 179.2L20.9 178.6L23.5 176.2L28.3 175.6M21.2 187.0L24.1 187.2L26.9 187.6M29.2 191.7L29.2 195.7M44.8 194.2L45.4 196.3L43.4 198.3M60.8 161.6L61.1 164.3L60.8 166.7M62.2 185.0L59.6 187.0L57.4 190.8L58.8 194.8L60.2 198.6L65.6 198.8L67.6 201.4L73.0 201.1L72.1 206.0L73.6 209.1L73.9 212.3L74.7 215.4M74.7 215.4L74.1 214.0L66.5 214.0L66.5 215.7L68.2 216.0L67.3 220.2L65.9 219.4L65.7 230.8M65.7 230.8L63.9 229.6L57.6 225.6L55.4 222.5L50.8 219.1M50.8 219.1L48.0 217.7L44.6 216.8L40.9 214.8M50.8 219.1L50.0 223.1L47.1 226.2L42.6 228.5L41.1 231.9L38.6 231.6L36.3 231.3L36.6 228.5M65.7 230.8L57.6 233.3L54.8 239.6L57.4 244.5L59.6 247.4L64.2 245.9L64.2 250.3L67.0 250.1M67.0 250.1L69.6 254.6L68.7 258.1L67.6 261.4L68.2 262.8L67.0 268.8L67.3 269.4L64.8 271.9M67.0 250.1L70.7 250.3L75.6 247.1L79.0 246.5L79.3 251.7L81.8 254.6L86.4 256.1L89.2 257.6L92.9 258.4L93.8 265.8L99.2 265.8L98.9 268.5L101.4 271.5L100.6 273.9L99.6 277.2M67.3 269.4L69.3 273.9L70.2 279.6L71.0 281.4L71.9 285.4L73.9 285.4M73.9 285.4L76.7 282.4L82.1 285.4L86.4 283.0L86.8 283.7M86.8 283.7L87.8 278.4L89.2 275.7L96.9 274.8L99.6 277.2M99.6 277.2L100.3 283.3L106.3 283.9L107.4 289.2L110.5 289.5L109.7 294.2M86.8 283.7L91.5 288.5L97.7 291.7L101.2 294.2L98.3 299.3L104.3 300.2L106.0 299.6L109.7 294.2M109.7 294.2L112.0 297.7L112.0 299.3L106.3 303.1L101.2 309.0M101.2 309.0L105.7 311.3L109.7 313.3L112.0 315.0L113.7 317.3L113.1 320.9M101.2 309.0L99.5 315.0L98.9 321.4M73.9 285.4L73.6 289.2L70.4 290.7L70.7 298.3L67.0 303.4L65.9 309.6L64.5 313.3L65.6 318.7L66.5 322.4L64.5 326.2L64.8 329.0L62.8 330.8L62.5 339.1L61.1 341.7L60.8 350.7L59.9 351.8L61.1 356.9L62.5 361.6L61.3 364.5L60.5 370.2L59.1 373.6L59.3 378.7L56.2 380.4L56.5 385.3L59.3 386.6L59.3 389.8L60.5 392.6L67.3 393.3L70.4 393.9M69.9 395.3L69.9 406.4M74.7 215.4L78.7 216.5L82.4 214.5L83.0 213.1L84.7 212.0L82.1 209.1L81.2 207.1L86.4 207.4L88.4 206.8L91.5 206.0L92.3 204.0M92.3 204.0L90.4 202.0L91.2 199.7L93.5 198.8L94.9 195.1M92.3 204.0L94.0 204.6L94.9 206.3L95.8 207.7L94.6 211.1L95.5 213.7L98.6 215.1L102.0 213.3L104.3 213.4M102.4 201.7L102.0 204.3L100.0 207.4L101.2 209.4L104.3 213.4M104.3 213.4L106.0 213.1L108.3 211.7L110.0 212.3M111.4 202.3L110.3 204.6L111.4 208.6L110.0 212.3M110.0 212.3L112.0 212.0L114.5 212.8L115.4 211.7L117.9 207.1M239.7 87.3L241.7 86.5L246.2 87.3L247.4 88.5L245.4 90.7L245.4 93.3L245.1 95.6L243.7 95.9L244.8 98.2L244.0 100.3L245.1 101.1L243.7 103.6L244.0 104.7M259.9 81.5L261.0 83.1L263.0 83.5L267.0 83.8L269.0 84.6L270.1 85.4L274.1 85.4M272.3 49.2L273.2 51.0L275.2 51.9L276.9 52.8L276.9 54.3L278.7 53.4L278.8 55.0L280.6 56.3L282.6 56.3L283.8 57.6L286.0 57.6L288.3 58.5L286.6 62.3L286.6 64.5M274.7 47.8L276.9 47.8L279.2 47.3L281.5 48.7L281.2 50.5L282.1 50.5M282.1 50.5L282.9 51.9L282.4 53.6L281.5 56.3M282.1 50.5L282.4 47.3L282.1 46.0L284.3 45.5L284.9 43.7L285.1 42.3L285.5 39.4M286.6 64.5L284.9 65.3L282.4 68.6L282.4 70.3L284.3 69.5L284.9 71.5M284.9 71.5L284.3 74.4L284.9 78.0L286.9 78.8L286.3 79.9M284.9 71.5L287.5 71.5L288.9 69.5L290.6 71.9L291.5 69.5L293.7 69.9L294.6 68.6M286.6 64.5L289.5 64.0L292.3 64.9L292.0 66.6L294.6 68.6M294.6 68.6L296.9 67.4L299.7 67.0L300.3 68.2L304.0 69.0M292.3 64.9L294.9 64.9L296.3 65.3L299.7 64.5L302.0 64.9L301.4 62.3L303.1 61.1L304.3 59.3M304.3 59.3L300.6 55.4L299.4 52.8L302.0 51.9L305.7 49.6L307.1 50.1M307.1 50.1L306.5 45.0L306.5 42.3L305.1 40.8L305.7 36.1M289.7 31.2L293.2 31.7M307.1 50.1L310.5 51.4L313.1 52.3L315.3 52.8L317.9 54.5L318.5 56.3L321.3 57.6L323.0 56.7L326.4 56.7L329.3 58.0M304.3 59.3L307.1 59.3L307.7 58.5L310.8 59.5L313.1 60.2M313.1 60.2L315.9 58.9L318.5 56.3M313.1 60.2L313.6 62.8L311.9 65.3L310.8 67.4M304.0 69.0L306.2 69.5L309.4 68.2L310.8 67.4M313.6 62.8L318.5 63.6L321.6 61.9L324.2 60.2L327.9 61.1M327.9 61.1L330.1 63.0L326.4 67.4L325.0 70.3L322.7 70.5M322.7 70.5L319.0 71.5L318.5 71.5L315.1 71.3L312.2 69.0L310.8 67.4M312.2 69.0L309.4 70.3L308.5 73.1L303.7 73.1M309.9 74.4L313.1 74.2L319.0 74.8L320.2 75.6L319.3 77.6L320.8 81.1L317.6 85.0M309.9 74.4L310.5 78.4L315.1 82.9L317.6 85.0M318.5 71.5L320.2 75.6M322.7 70.5L325.9 74.4L326.2 76.0L329.0 76.4L329.6 78.4L328.7 79.9L330.4 82.3L328.7 85.8M329.6 78.4L330.4 79.9L337.2 80.5L341.8 78.8L346.4 80.1M330.1 63.0L335.8 64.0L340.7 61.7L341.8 62.3L344.9 67.8L345.2 73.1L349.5 74.4M340.7 61.7L343.5 60.8L347.8 63.2L350.3 69.5L347.2 71.1L345.2 73.1M328.7 85.8L330.1 89.4L334.7 88.8L339.2 89.4L340.1 88.1L340.7 86.9L344.6 86.9M340.1 88.1L340.7 89.6L339.0 91.7M321.9 95.6L323.9 92.2L324.7 91.1L330.1 89.4M320.2 87.3L322.2 84.6L323.6 87.3L323.9 91.1M322.2 84.6L323.0 83.7L326.2 85.8L328.7 85.8M323.6 87.3L326.2 85.8M320.8 81.1L323.0 83.7M320.8 33.4L329.9 33.9L331.8 35.6L331.8 36.1M329.9 33.9L329.3 30.7L325.6 29.4M331.8 36.1L333.0 41.8L331.0 43.7L332.1 47.3M332.1 47.3L333.6 50.5L329.3 56.3L329.3 58.0L327.9 61.1M324.9 25.2L330.1 23.6L335.8 23.6L340.7 27.2M340.7 27.2L340.7 30.2L337.5 34.1L331.8 36.1M334.1 15.8L337.5 15.2L342.9 17.6M342.9 17.6L344.4 21.6L345.2 25.2L340.7 27.2M344.9 7.3L342.9 10.9L342.9 17.6M345.2 25.2L352.6 27.7L353.2 32.2L358.0 38.5L354.6 39.4L355.5 44.6M332.1 47.3L336.1 45.5L343.2 47.3L347.5 46.9L352.0 48.3L355.5 44.6M355.5 44.6L361.7 44.1L365.7 49.6L369.1 52.8L373.1 54.5L379.1 55.8L378.2 59.3L377.9 63.6L373.7 66.6M296.6 9.8L298.6 5.3L300.6 3.0L300.0 -1.6M344.1 1.0L347.5 -2.8M244.2 30.4L242.0 33.2L244.2 34.9L247.1 35.3M367.7 108.9L369.1 108.0L370.2 106.4L374.5 105.7L378.8 105.9L385.5 105.0L392.4 104.7M392.4 104.7L391.0 100.3L391.3 96.7L392.4 95.6M392.4 95.6L389.3 94.1L388.7 90.3L385.9 89.0L383.2 88.8M378.8 81.5L385.9 82.3L391.6 84.2L397.0 87.3L399.5 89.2L403.2 87.5M397.0 87.3L397.3 90.3L393.0 89.6L388.7 90.3M393.0 89.6L395.6 93.7L397.3 96.3L397.3 98.5M392.4 95.6L397.3 98.5L401.5 95.6L404.1 100.3M385.5 105.0L382.2 108.2L381.6 114.5L375.4 117.9M375.4 117.9L369.7 121.6L366.5 120.3M367.3 113.6L369.1 115.2L366.8 118.2M366.4 120.3L366.1 124.3L364.6 130.8M362.4 125.3L364.3 130.9M364.6 131.2L367.7 131.9L371.7 129.3L373.1 127.6L370.2 124.3L375.9 122.3L376.5 122.1M375.4 117.9L376.5 122.1M376.5 122.1L379.9 123.0L384.5 125.6L392.1 131.9L397.3 132.2M397.3 132.2L400.1 129.3L401.5 129.3M397.3 132.2L400.7 134.2L402.7 134.0M392.4 104.7L394.1 108.9L395.8 110.0L394.1 115.9L396.1 119.3L400.7 122.6L401.0 126.0L403.2 129.6M386.7 171.5L387.9 168.5L391.3 168.5L397.0 169.1L400.1 169.4L404.7 164.9L412.9 163.7M412.9 163.7L416.0 170.8M412.9 163.7L421.4 160.7L423.4 154.6L422.0 152.5M422.0 152.5L414.6 151.7L411.8 148.1M422.0 152.5L423.7 148.4L424.6 146.3L425.4 145.5M409.5 146.1L410.6 146.6M418.3 104.3L420.9 103.9L424.9 101.4L428.0 101.8L431.1 103.6L433.4 103.9L437.1 106.8L438.9 106.8L439.1 110.1M439.1 110.1L437.1 115.5L438.2 124.3L440.5 124.6L438.2 129.8M438.2 129.8L440.8 133.5L443.6 134.8L443.6 137.7L445.1 139.6L441.1 141.5L439.9 145.0M438.2 129.8L442.8 131.6L447.3 131.2L453.6 129.6L453.9 126.3L458.4 124.0L462.1 123.0L462.1 119.3L465.0 117.9L464.1 115.9L467.2 114.5L468.7 111.7L467.8 108.9L471.2 106.1L476.9 105.4M439.1 110.1L441.9 111.4L444.8 109.4L448.5 107.9L449.3 105.0L454.2 104.1L457.9 104.8L458.7 105.4L462.7 103.2L464.4 103.2L465.2 101.4L468.1 102.1L468.4 106.1L473.5 103.8L478.0 104.5M459.0 149.4L460.7 147.5L467.0 147.2L464.7 143.1L465.0 139.0L462.7 139.0L465.8 135.8L472.1 132.7L474.1 129.3L476.6 126.0L476.6 123.6L479.2 121.6L476.6 119.9L475.8 118.6L474.9 114.8L476.1 113.3L480.5 114.1L484.2 112.1L486.3 110.7M486.3 110.7L489.4 114.8L489.1 117.6L490.3 121.0L488.3 120.6L488.9 124.3L495.7 128.6M495.7 128.6L499.1 128.9L501.9 130.9L504.5 133.2L506.8 133.8L509.1 135.1L515.3 136.1L515.6 136.1M495.7 128.6L492.8 133.2L495.7 134.5L501.9 137.9L505.9 138.3L507.6 139.9L513.0 140.9L515.6 140.9L515.6 136.1M515.6 136.1L517.6 138.0L519.6 135.6L523.0 135.6L525.8 136.4L527.0 137.4L526.7 139.5L522.1 139.3L520.1 139.9L517.6 138.7L517.6 138.0M527.0 137.4L530.7 133.8L534.1 131.6L536.4 132.5L538.4 131.1L541.8 134.8M515.6 140.9L517.9 141.2L520.4 142.2L520.7 144.4L527.8 145.2L524.4 148.4L524.4 150.0L525.8 151.5L527.3 149.7L528.4 156.8L527.5 158.6M515.6 140.9L515.6 146.9L517.3 147.8L517.9 151.9L518.3 154.5M528.4 156.8L529.8 152.5L530.4 148.4L534.4 144.7L535.8 142.2L541.2 138.7L541.8 134.8M541.8 134.8L544.3 136.7L545.7 139.9L542.9 145.0L542.6 148.8L545.7 148.4L546.9 154.0L549.7 156.2L552.7 155.1M552.7 155.1L549.7 159.5M549.7 159.5L546.3 161.5L543.2 164.9L542.0 165.4L546.3 172.1L544.3 175.3L546.9 179.2L548.0 184.7L545.7 189.6M549.7 159.5L551.2 162.2L553.1 162.2L552.6 168.2L555.4 166.4L558.5 165.8L562.8 168.5L563.1 171.5L565.4 173.9L565.1 177.4M565.1 177.4L561.7 177.4L558.0 178.0L556.0 180.3L557.7 185.3M565.1 177.4L566.5 178.6L570.8 176.7M570.8 176.7L571.1 183.5L567.6 185.9L565.9 185.6L567.1 187.9L564.2 187.6L562.0 189.1M570.8 176.7L570.5 175.0L570.2 173.0L567.9 170.9L564.0 164.6L560.5 162.8L563.1 161.0L562.0 158.3L558.5 158.3L555.6 153.2M552.7 155.1L554.3 157.1L555.6 153.2M555.6 153.2L559.4 152.5L564.5 150.5L568.5 152.2L568.2 154.6L572.2 156.0M549.7 200.4L552.6 202.6L555.4 201.1M576.9 213.1L579.0 216.2L583.0 216.0L586.0 214.5L588.7 215.4L591.0 214.8L592.4 210.8L593.5 209.7L594.7 206.6L600.4 207.0M666.1 226.2L666.1 244.8M620.4 244.2L620.8 245.7M623.7 102.7L626.2 100.7L630.1 99.6M618.6 94.7L623.4 90.7L626.0 87.7L629.7 89.0L633.9 85.2L636.5 85.2M636.5 85.2L638.5 78.8L643.6 74.8L646.4 66.1L648.4 61.3L641.9 63.6L637.3 63.6L636.5 59.8L627.7 55.0L626.0 48.0L623.1 41.3L616.6 38.0L609.2 39.2L606.9 42.3L608.3 45.0L604.3 51.4L604.3 53.6L600.4 56.3L596.9 54.7M596.9 54.7L593.5 54.1L590.4 53.0L586.1 56.1L582.4 56.7L579.9 58.0L573.6 57.2L571.9 55.0L569.1 52.8L566.2 52.3L562.5 52.8L560.0 53.6L556.0 51.9L555.4 48.3L549.4 46.9L546.3 45.0L544.3 47.3L543.2 49.6L544.3 52.3L541.8 55.4L537.5 54.1L534.7 54.1L532.7 51.9L527.3 50.5L523.0 52.8L517.6 56.3L514.6 57.2M596.9 54.7L593.5 62.3L598.7 64.0L600.9 62.3L605.8 66.8L605.5 68.2L598.9 68.2L596.9 69.5L594.1 72.3L590.7 73.9L587.8 76.0L583.6 75.0L583.3 80.3L581.0 81.5L577.9 84.6L571.3 85.0L563.7 88.5L562.2 87.3L554.6 85.0L548.0 85.0L542.3 84.0L539.1 84.2L537.5 81.9L536.1 78.4L531.0 75.4L523.7 73.9L522.7 72.3L523.8 67.4L521.9 64.0L517.7 62.5L514.6 57.2M514.6 57.2L513.3 57.6L511.9 55.0L508.2 55.4L507.1 53.6L502.2 49.4L498.0 50.5L494.3 47.8L492.6 50.3L486.3 38.5L482.6 34.6L476.6 37.8L473.8 38.0L474.1 35.3L467.5 35.1L466.7 30.2L461.6 28.7L451.9 32.7L441.4 35.6L438.5 37.3L440.5 40.4L437.7 41.8L440.2 48.3L435.4 50.5L434.5 51.9L431.1 49.4L426.6 49.6L423.4 51.4L420.0 49.6L413.8 46.4L409.5 46.4L403.5 51.4L403.2 54.5L400.1 52.1L398.0 56.9L398.7 57.8L397.3 61.1L399.5 64.0L401.7 63.8L404.7 69.5M513.3 57.6L509.1 60.8L508.8 65.1L501.7 65.5L499.5 72.9L498.1 73.9L492.4 75.6L495.0 82.3L493.1 83.5L492.8 86.5M492.8 86.5L490.1 83.7L485.9 83.3L481.2 83.3L476.1 81.9L474.5 82.7L474.1 85.0L469.4 83.7L467.5 84.2L466.8 86.0M466.8 86.0L465.2 86.5L461.6 89.2L460.1 92.0L459.1 92.0L458.4 90.2L454.7 90.2L454.2 86.9L452.7 85.4L453.0 83.1L449.6 80.3L444.8 80.5L441.4 81.1L438.7 77.6L431.4 72.7L424.3 75.2L424.3 89.6M424.3 89.6L422.7 89.8L420.7 86.7L418.9 85.8L415.6 86.5L414.3 87.7M424.3 89.6L427.4 89.6L429.4 86.2L431.7 84.0L435.7 86.2L436.0 89.0L441.1 90.3L442.5 94.3L447.6 98.5L450.5 100.3L454.3 102.0L454.2 104.1M457.9 104.8L456.7 101.8L459.6 101.2L458.1 96.3L461.3 94.1L465.8 94.5L465.5 92.6L466.0 90.7L469.5 89.6L472.8 91.3L469.2 93.9L465.8 94.5M466.8 86.0L467.8 88.5L466.0 90.7M492.8 86.5L487.4 90.0L483.7 90.5L482.6 92.8L477.8 93.2L474.9 94.8L474.6 96.5M474.6 96.5L478.0 100.3L478.0 104.5M474.6 96.5L469.2 97.1L465.5 95.9L462.7 94.1M478.0 104.5L480.9 106.6L486.3 110.7M258.7 112.1L259.9 114.5L261.6 120.3L261.3 121.8L257.6 122.3L254.8 123.8L254.6 126.3L251.1 127.6L250.2 129.3L247.6 130.3L244.8 130.6L240.3 133.2L240.3 136.9M240.3 136.9L227.5 136.9M240.3 136.9L240.3 142.2L230.9 142.2L230.9 150.2L228.0 151.5L227.7 156.6L216.9 156.6M240.3 138.0L251.3 145.3M251.3 145.3L246.5 145.3L249.4 174.2L238.0 174.5L234.6 174.5L231.4 176.2L230.3 176.8M230.3 176.8L226.9 172.4L223.5 170.9L218.6 171.2L218.1 172.4M251.3 145.3L270.1 158.9L273.8 161.6L274.1 163.6L277.1 163.3M277.1 163.3L281.2 161.9L299.0 150.0M299.0 150.0L292.0 141.1L293.2 136.4L292.9 131.2L292.0 128.3M292.0 128.3L290.7 122.3L288.9 120.1L286.3 116.4L288.0 113.6L288.9 105.5M292.0 128.3L293.7 126.1L294.3 123.5L297.4 121.3L297.7 118.8M299.0 150.0L305.4 153.1L307.7 151.5L333.3 162.2M333.3 162.2L333.3 160.7L336.1 160.7L336.1 154.6M336.1 154.6L336.1 131.9L335.3 128.8L336.5 123.8M336.1 154.6L370.0 154.6M307.7 151.5L310.2 159.5L309.1 170.0L303.4 177.4L303.7 179.5M303.7 179.5L301.7 180.3L299.1 181.1L294.0 180.8L290.6 181.9L287.2 180.5L284.6 181.5L280.6 178.9L276.7 180.0L275.2 185.3M277.1 163.3L277.1 170.2L275.2 174.0L269.0 174.8L266.1 175.8M266.1 175.8L265.9 177.3L267.8 180.5L271.3 182.5L271.1 184.6M271.1 184.6L273.0 183.7L275.2 185.3M266.1 175.8L264.1 175.9L259.3 177.0L257.0 178.6L252.8 180.8L252.5 182.8L250.2 185.3L249.6 189.1M249.6 189.1L247.8 189.9L245.5 189.8L242.2 189.6M242.2 189.6L241.1 186.2L238.5 183.5L236.0 184.9L232.3 183.1M232.3 183.1L230.3 176.8M232.3 183.1L226.0 182.7M226.0 182.7L220.8 182.5L217.5 183.3M226.0 182.7L226.0 185.0L222.3 187.5M217.2 181.1L222.0 179.0L225.6 180.0L222.3 180.0L217.5 179.7M227.3 193.0L229.7 190.6L233.4 190.2L234.8 192.4L235.8 194.8M235.8 194.8L232.4 199.1M235.8 194.8L238.4 196.3L241.0 197.7M241.0 197.7L242.2 195.1L242.2 189.6M241.0 197.7L241.1 199.1L243.5 202.6L243.5 206.4M257.3 204.3L255.8 201.0L257.7 195.4L256.9 191.2L256.6 187.5M249.6 189.1L251.3 190.8L256.9 191.2M256.6 187.5L262.7 187.5L264.9 187.0M264.9 187.0L266.0 189.6L266.3 194.0L267.0 195.1L266.4 197.7L268.0 201.8M267.6 187.3L267.3 188.9L269.1 192.1L269.7 199.0L270.3 201.3M264.9 187.0L267.6 187.3L271.1 184.6M275.2 185.3L275.5 190.1L272.7 194.5L272.7 201.0M305.1 181.2L305.4 183.0L306.5 184.7L303.7 187.9L301.3 194.0L298.4 199.0L294.9 198.7L292.0 200.4L289.2 205.1M305.4 182.1L307.8 187.3L309.1 190.4L304.7 191.5L308.5 197.7M308.5 197.7L306.4 201.6L306.2 205.4L310.2 210.3L310.5 212.4M310.5 212.4L302.3 212.3L297.1 212.4L292.9 212.3M297.1 212.4L297.1 216.0L292.3 216.0M333.3 162.2L333.3 173.6L330.1 173.6L328.1 178.9L328.4 182.5L326.7 182.5L330.1 186.2L330.1 187.5M330.1 187.5L326.7 188.6L322.0 193.1L319.0 193.1L318.8 194.2L313.4 197.4L308.5 197.7M330.1 187.5L333.0 194.2L334.7 193.4L336.4 189.3L340.4 191.5L344.6 191.9L347.5 191.4L352.6 191.1L357.2 185.3L359.4 183.8L358.9 189.6L361.7 191.8M361.7 191.8L362.6 188.5L364.6 184.9L368.3 179.9L368.7 177.4M368.7 177.4L370.2 169.7L374.2 166.7M361.7 191.8L358.9 196.5L362.6 199.0L365.4 203.1L366.8 205.3M366.8 205.3L361.7 206.7L360.0 208.0L358.0 208.0L353.7 208.0L352.8 208.8M352.8 208.8L349.5 205.7L345.8 206.6L342.9 203.8L339.5 202.7L336.4 197.4L333.0 194.2M368.7 177.4L372.0 178.0L376.2 176.4L381.3 178.3L385.5 182.8M385.5 182.8L383.8 187.2L386.7 187.5L387.6 186.0M386.7 187.5L387.3 190.2L390.2 193.1L398.7 196.0L401.5 196.0L393.0 204.6L389.3 204.8L384.5 206.8L384.0 207.6M401.5 196.0L404.4 191.7L404.4 186.4M384.0 207.6L378.5 207.8L375.1 208.6L370.0 206.1L366.8 205.3M384.0 207.6L381.6 210.8L381.6 221.2L383.3 223.5M361.7 206.7L363.1 208.7L364.6 213.4L361.7 217.9L361.4 221.6M361.4 221.6L372.2 227.6L372.2 229.3L376.5 232.2M352.8 208.8L353.7 212.5L349.2 217.1L349.2 222.6M349.2 222.6L351.5 222.1L352.6 221.6L361.4 221.6M352.6 221.6L351.8 225.6L352.5 228.3L348.5 231.5M349.2 222.6L347.5 226.8L348.5 231.5M347.5 226.8L351.8 225.6M342.9 203.8L337.0 204.6L329.9 205.4L328.7 207.3L324.4 206.4L320.5 204.4L317.8 206.6L317.5 208.8L315.6 217.9L311.6 223.8L310.5 228.9L306.5 233.0L306.0 231.0L303.1 232.8L302.3 232.0L300.8 231.5L299.1 233.0M317.9 208.8L311.9 209.7L310.5 212.4M302.3 212.3L302.8 215.1L306.0 215.0L304.5 218.8L306.0 222.6L306.0 225.3L300.6 225.6L298.0 226.8L296.6 230.0M300.0 235.9L303.1 235.5L312.2 235.5L313.4 239.6L320.2 241.6L323.3 239.6L327.0 239.6L327.6 247.1L328.4 250.9L333.3 250.0M299.7 235.0L300.8 231.5M333.3 250.0L333.3 255.8L327.6 256.1L327.6 265.5L331.6 269.7M333.3 250.0L337.2 251.2L341.5 253.0L345.8 254.6L347.5 257.3L349.8 257.4L349.8 253.6L345.8 252.6L346.4 245.4L347.2 243.1L352.5 242.2M352.5 242.2L357.2 244.8L358.9 245.7L362.6 246.5M363.4 252.0L366.8 251.4L372.8 251.2L379.9 248.8M358.9 245.7L359.7 249.7L359.4 254.9L358.0 257.9L359.4 259.0M359.4 259.0L350.9 262.0L351.5 263.7M363.4 252.0L364.3 257.9L367.1 261.7L365.4 268.2L362.6 264.0L359.4 259.0M351.5 263.7L347.2 264.9L341.8 270.7L336.8 270.3M331.6 269.7L336.8 270.3M351.5 263.7L358.7 267.0L358.7 272.4L358.0 278.4L354.0 284.2M336.8 270.3L339.5 275.4L343.8 278.4L348.6 283.6M348.6 283.6L354.0 284.2M298.4 268.6L304.8 269.1L317.3 269.1L325.9 270.9L331.6 269.7M324.7 271.8L324.7 283.0L321.9 283.0L321.9 291.5M321.9 291.5L321.9 303.1L314.5 304.1L311.9 303.8M321.9 291.5L324.2 298.0L329.6 293.9L337.8 294.2L341.5 288.2L348.6 283.6M354.0 284.2L356.0 290.6L355.9 295.3L356.3 298.0L358.6 298.1M355.9 295.3L353.2 295.1L352.6 298.0L354.0 299.6L356.3 298.0M341.8 307.0L344.6 304.1L348.3 305.4L347.8 308.2L344.6 310.5L342.9 309.3L341.8 307.0" fill="none" stroke="#e5e5e5" stroke-width="0.9" stroke-linejoin="round"/>
<path d="M-8.1 -33.6L-4.1 -4.0L0.5 10.3L3.0 19.5L8.0 18.9L15.0 23.1L23.2 28.2L32.0 29.2L32.5 39.4L34.6 43.7L36.9 47.3L40.7 46.2L40.3 36.3L38.0 32.2L44.0 27.7L46.7 21.0L45.0 15.8L40.7 11.4L44.6 5.3L44.0 0.1L44.0 -33.6ZM65.9 -33.6L67.3 1.3L65.9 7.0L67.3 10.9L70.7 14.1L74.4 13.6L77.6 10.3L79.3 5.3L80.0 1.9L80.0 -33.6ZM3.0 68.2L7.6 64.9L11.8 61.1L14.7 58.9L20.4 59.8L23.2 62.8L23.8 64.9L24.6 69.0L23.2 68.2L19.0 69.0L16.1 69.0L14.7 65.3L13.3 67.0L10.4 67.8L7.6 68.6ZM15.3 86.9L14.7 83.1L15.5 78.0L14.4 76.8L17.0 72.7L21.8 70.7L24.1 71.9L22.7 75.2L20.4 78.4L19.8 83.1L19.5 86.9L17.5 88.5ZM23.8 71.5L26.1 70.3L30.3 70.3L34.6 70.7L38.0 75.2L37.7 77.2L34.6 76.4L33.2 74.8L32.6 79.1L30.9 83.1L29.8 81.1L28.3 79.5L26.4 80.7L27.2 77.2L26.9 73.9ZM27.5 88.1L31.8 89.2L36.0 87.3L40.6 84.2L40.6 83.3L36.0 84.2L31.8 85.4L28.1 86.5ZM37.7 81.9L40.3 82.5L44.6 82.3L48.3 81.1L48.3 78.4L44.6 78.8L40.3 79.5ZM347.5 90.0L344.6 87.3L344.4 84.2L346.4 81.5L346.4 78.4L349.2 75.2L350.9 71.5L352.6 69.0L355.5 68.6L357.4 70.7L360.6 70.7L358.9 72.3L357.4 73.5L360.0 76.8L361.7 77.6L365.4 75.2L368.8 74.4L371.1 73.9L373.1 77.2L375.9 79.1L378.8 81.9L382.8 84.6L383.3 88.1L380.2 90.7L377.4 90.5L373.9 90.9L370.2 90.0L367.4 88.5L364.6 86.9L361.7 87.1L358.9 86.9L356.0 88.5L353.7 90.3L350.3 90.2ZM364.6 72.3L364.3 70.3L366.8 68.6L370.2 67.4L373.1 66.6L376.5 66.1L375.9 68.2L373.1 69.9L372.5 72.3L371.1 73.5L369.1 73.9L366.8 73.5ZM404.4 68.6L401.5 71.1L398.7 75.2L398.1 77.6L400.1 81.1L400.4 83.8L403.0 87.7L405.2 90.7L407.2 93.0L405.5 95.2L404.7 98.9L404.4 102.5L407.8 104.7L411.5 106.1L415.8 105.7L418.6 105.4L418.3 101.8L418.0 98.2L416.3 96.3L415.8 94.5L415.2 91.1L418.6 90.7L420.3 89.2L418.0 86.5L415.2 87.7L414.3 85.0L411.5 81.9L410.1 78.0L408.1 77.2L410.9 75.2L415.8 73.9L416.3 69.9L415.2 67.4L411.5 66.6L407.2 67.8ZM415.8 90.7L415.5 87.7L418.6 86.9L420.6 88.8L420.0 91.1ZM430.8 71.5L431.7 74.4L431.7 77.2L433.1 78.0L433.1 74.4L434.5 71.5L437.4 69.9L439.4 68.6L438.5 67.8L435.7 68.2L433.4 69.5ZM560.0 47.3L562.8 47.8L565.7 45.0L570.8 40.8L574.5 37.5L577.3 30.2L577.6 26.7L575.6 26.7L574.2 31.2L571.6 36.1L567.4 39.9L564.2 43.2L561.7 45.5ZM473.8 73.5L475.2 75.6L476.6 74.8L477.2 71.9L479.5 69.9L485.2 69.5L485.2 68.2L479.2 68.0L476.1 69.9ZM355.2 219.7L357.4 217.9L360.3 217.7L362.3 218.2L362.3 220.2L362.0 222.2L360.6 224.5L359.7 226.2L357.4 227.1L355.5 225.9L355.2 223.1ZM348.3 228.5L349.5 230.2L349.8 233.0L349.5 235.9L351.5 238.8L352.9 241.6L353.7 243.6L352.0 243.4L350.9 240.2L348.6 237.0L348.1 233.0L347.8 229.9ZM361.4 246.2L362.8 246.5L363.4 249.7L364.3 252.6L364.3 256.1L365.1 258.4L364.8 259.9L363.4 259.6L362.6 256.1L362.0 252.3L362.3 249.4ZM367.1 205.7L368.3 206.6L368.8 209.7L369.4 211.7L368.5 211.7L367.4 209.1ZM351.5 215.7L354.0 212.3L354.3 213.4L352.6 215.7ZM347.5 223.6L348.3 223.9L348.1 225.9L347.2 225.6ZM346.1 243.4L347.5 243.4L347.5 245.7L346.1 245.4ZM304.3 180.0L306.5 180.0L306.5 182.1L304.5 182.1ZM352.9 -4.6L352.9 0.7L353.7 4.2L356.0 3.6L358.3 0.7L358.9 -2.8L356.0 -5.2ZM300.3 10.3L302.8 7.6L305.1 9.8L303.4 12.5L301.1 13.1ZM305.4 16.3L306.5 11.4L307.7 12.0L306.5 16.3ZM341.8 9.8L344.4 9.8L343.8 13.6L342.7 13.6ZM385.6 99.6L388.2 98.2L389.0 100.3L386.7 100.7ZM393.0 101.1L394.1 101.1L395.6 104.3L393.9 105.0ZM358.6 148.4L358.0 151.5L355.5 153.4L356.9 153.1ZM-16.6 35.6L-12.3 35.6L-8.9 49.6L-10.9 52.3L-15.2 42.7ZM341.8 270.9L347.2 266.7L347.5 267.6L342.7 271.2ZM560.0 180.6L562.2 183.0L561.7 183.3L559.7 181.5ZM61.3 187.6L62.5 187.6L63.0 190.8L61.6 192.5L59.9 191.1ZM20.9 184.1L23.2 184.7L23.8 187.0L21.5 186.4Z" fill="#d8dcdd"/>
<path d="M38.0 23.1L39.7 23.1L39.4 26.2L38.0 25.7ZM32.0 39.9L35.2 39.9L34.9 41.3L32.3 41.1Z" fill="#f5f5f5"/>
<g fill="rgba(175,28,66,0.25)" stroke="#a31f47" stroke-width="1.25"><circle cx="248.0" cy="122.5" r="19.3"/><circle cx="273.0" cy="133.7" r="14.2"/><circle cx="292.9" cy="114.7" r="19.3"/><circle cx="316.7" cy="137.6" r="19.3"/><circle cx="349.9" cy="139.8" r="19.3"/><circle cx="228.7" cy="147.5" r="3.7"/><circle cx="235.6" cy="159.7" r="3.7"/><circle cx="254.7" cy="167.6" r="3.7"/><circle cx="291.8" cy="167.6" r="3.7"/><circle cx="317.8" cy="173.5" r="3.7"/><circle cx="196.6" cy="172.7" r="3.7"/><circle cx="223.8" cy="176.5" r="3.7"/><circle cx="222.1" cy="179.7" r="3.7"/><circle cx="222.6" cy="183.4" r="3.7"/><circle cx="233.6" cy="188.1" r="3.7"/><circle cx="231.7" cy="193.7" r="3.7"/><circle cx="238.5" cy="199.6" r="3.7"/><circle cx="249.7" cy="196.6" r="8.9"/><circle cx="261.8" cy="195.9" r="14.2"/><circle cx="259.8" cy="183.6" r="3.7"/><circle cx="267.9" cy="193.9" r="3.7"/><circle cx="271.8" cy="190.8" r="3.7"/><circle cx="287.9" cy="190.7" r="19.3"/><circle cx="301.7" cy="201.7" r="8.9"/><circle cx="283.6" cy="217.7" r="3.7"/><circle cx="294.6" cy="213.5" r="3.7"/><circle cx="298.7" cy="219.9" r="3.7"/><circle cx="308.5" cy="220.4" r="3.7"/><circle cx="323.7" cy="199.6" r="3.7"/><circle cx="375.8" cy="173.5" r="3.7"/><circle cx="350.7" cy="181.7" r="3.7"/><circle cx="378.1" cy="193.5" r="19.3"/><circle cx="385.9" cy="184.7" r="3.7"/><circle cx="353.6" cy="198.4" r="3.7"/><circle cx="396.7" cy="203.9" r="3.7"/><circle cx="357.5" cy="214.7" r="8.9"/><circle cx="373.1" cy="216.9" r="14.2"/><circle cx="349.6" cy="223.8" r="3.7"/><circle cx="348.5" cy="228.0" r="3.7"/><circle cx="332.6" cy="226.5" r="3.7"/><circle cx="363.6" cy="236.7" r="3.7"/><circle cx="421.7" cy="237.8" r="3.7"/><circle cx="314.7" cy="253.6" r="3.7"/><circle cx="343.8" cy="256.8" r="14.1"/><circle cx="362.7" cy="256.5" r="3.7"/><circle cx="389.7" cy="252.6" r="3.7"/><circle cx="365.8" cy="268.6" r="8.9"/><circle cx="349.8" cy="273.6" r="3.7"/><circle cx="397.6" cy="274.8" r="3.7"/><circle cx="429.6" cy="276.9" r="3.7"/><circle cx="313.7" cy="283.6" r="8.9"/><circle cx="335.7" cy="283.8" r="8.9"/><circle cx="336.7" cy="304.7" r="24.8"/><circle cx="354.8" cy="296.7" r="3.7"/><circle cx="345.7" cy="306.6" r="3.7"/></g>
</svg>
</div>
<!-- legend button -->
<div class="abs" style="left:788px;top:69px;width:34px;height:34px;background:#f7f7f7;border:1px solid #ececec;"></div>
<svg class="abs" style="left:796px;top:77px" width="18" height="18" viewBox="0 0 18 18"><g fill="#6e6e6e"><rect x="2" y="1.5" width="3" height="3"/><rect x="2" y="5.6" width="3" height="3"/><rect x="2" y="9.7" width="3" height="3"/><path d="M3.5 13.6 L5.2 16.8 L1.8 16.8 Z"/><rect x="7" y="2.3" width="9" height="1.3"/><rect x="7" y="6.4" width="9" height="1.3"/><rect x="7" y="10.5" width="9" height="1.3"/><rect x="7" y="14.6" width="9" height="1.3"/></g></svg>
<!-- zoom -->
<div class="abs" style="left:791px;top:425px;width:30.5px;height:57px;background:#f8f8f8;"></div>
<svg class="abs" style="left:791px;top:425px" width="31" height="57" viewBox="0 0 31 57"><path d="M9.5 15 H21.5 M15.5 9 V21 M9.5 42 H21.5" stroke="#4c4c4c" stroke-width="1.6" fill="none"/></svg>
<!-- attribution -->
<div class="abs" style="left:518px;top:489px;width:301px;height:14px;background:rgba(255,255,255,0.65);font-size:12px;line-height:14px;color:#323232;padding-left:4.5px;white-space:nowrap;letter-spacing:0.44px;">Sources: Esri, HERE, Garmin, FAO, NOAA, USG…</div>

<!-- chart -->
<svg class="abs" style="left:159px;top:508px" width="670" height="42" viewBox="0 0 670 42">
 <g stroke="#e4e4e4" stroke-width="1" fill="none"><path d="M86 19.5 H639"/><path d="M155.95 19 V42 M226.4 19 V42 M296.85 19 V42 M367.3 19 V42 M437.75 19 V42 M508.2 19 V42 M578.65 19 V42"/></g>
 <path d="M80 19.5 H86 M85.7 19 V42" stroke="#a6a6a6" stroke-width="1.6" fill="none"/>
 <rect x="478.5" y="40" width="9" height="2" fill="#9a9a9a"/>
 <text x="73.2" y="23.7" font-size="11" text-anchor="end" fill="#6a6a6a" font-family="Liberation Sans, sans-serif">2M</text>
 <text transform="translate(46.2,68.8) rotate(-90)" font-size="12" font-weight="bold" fill="#4c4c4c" font-family="Liberation Sans, sans-serif">Cases</text>
</svg>
</body></html>
